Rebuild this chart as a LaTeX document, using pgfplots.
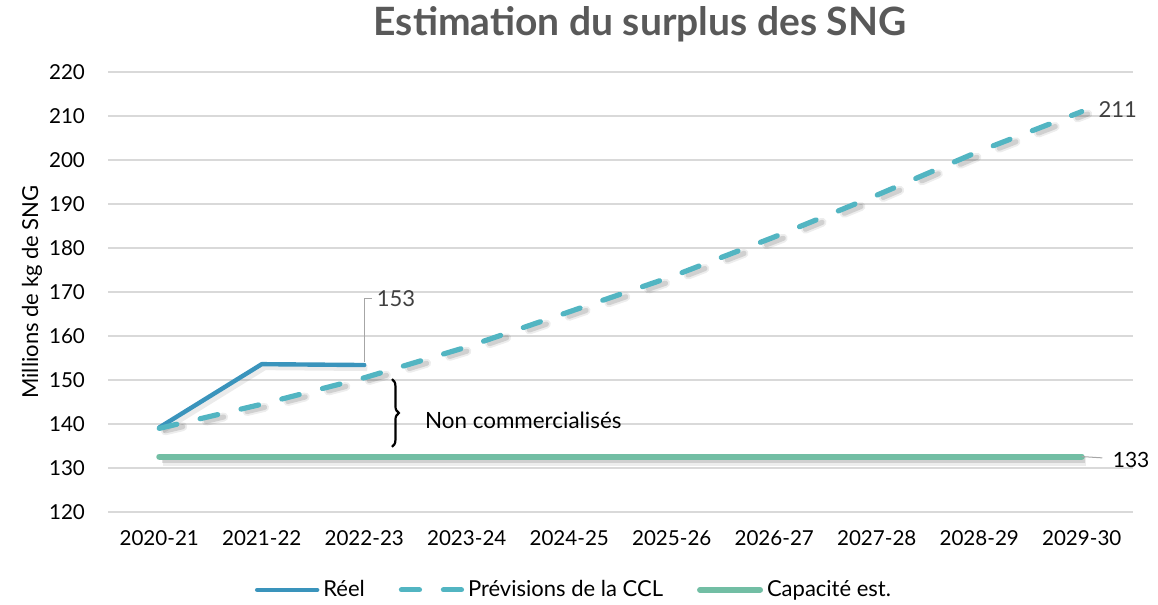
\documentclass[border=0pt]{standalone}
\usepackage{pgfplots}
\pgfplotsset{compat=1.18}
\usepackage{fontspec}
\setmainfont{Lato}
\usetikzlibrary{decorations.pathreplacing}
\definecolor{reelc}{HTML}{3A94BC}
\definecolor{prevc}{HTML}{52B5C2}
\definecolor{capc}{HTML}{72BEA4}
\definecolor{gridc}{HTML}{D9D9D9}
\definecolor{titlec}{HTML}{595959}
\definecolor{lblc}{HTML}{404040}
\begin{document}
\begin{tikzpicture}
\begin{axis}[
  width=512.5pt, height=220pt, scale only axis,
  xmin=-0.5, xmax=9.5, ymin=120, ymax=220,
  xtick={0,...,9},
  xticklabels={2020-21,2021-22,2022-23,2023-24,2024-25,2025-26,2026-27,2027-28,2028-29,2029-30},
  ytick={120,130,...,220},
  ymajorgrids, grid style={gridc, line width=0.7pt},
  axis line style={draw=none}, major tick length=0pt,
  tick label style={font=\fontsize{10.3}{11}\selectfont},
  yticklabel style={xshift=-8pt},
  xticklabel style={yshift=-6pt},
  /pgf/number format/assume math mode=true,
  ylabel={Millions de kg de SNG},
  every axis y label/.style={at={(rel axis cs:-0.0741,0.5)}, rotate=90, anchor=center, font=\fontsize{11}{12}\selectfont},
  clip=false,
  legend columns=3,
  legend style={draw=none, fill=none, at={(rel axis cs:0.4556,-0.177)}, anchor=center,
    font=\fontsize{11}{12}\selectfont,
    /tikz/every even column/.append style={column sep=15pt}},
  legend image code/.code={\draw[#1] (0pt,0pt) -- (30pt,0pt);},
]
% shadows
\addplot[forget plot, black, opacity=0.07, line width=5pt, shift={(2pt,-2pt)}] coordinates {(0,132.6) (9,132.6)};
\addplot[forget plot, black, opacity=0.12, line width=3pt, shift={(1.5pt,-1.5pt)}] coordinates {(0,132.6) (9,132.6)};
\addplot[forget plot, black, opacity=0.07, line width=4.5pt, dash pattern=on 9pt off 12pt, line cap=round, shift={(3pt,-1.2pt)}] coordinates {
 (0,139) (1,144.5) (2,150.5) (3,157.5) (4,165.5) (5,173.5) (6,182.5) (7,192) (8,202) (9,211)};
\addplot[forget plot, black, opacity=0.12, line width=2.6pt, dash pattern=on 9pt off 12pt, line cap=round, shift={(3pt,-1.2pt)}] coordinates {
 (0,139) (1,144.5) (2,150.5) (3,157.5) (4,165.5) (5,173.5) (6,182.5) (7,192) (8,202) (9,211)};
\addplot[forget plot, black, opacity=0.08, line width=3pt, shift={(1.5pt,-1.5pt)}] coordinates {(0,139.2) (1,153.6) (2,153.4)};
% series
\addplot[reelc, line width=2.2pt, line join=round, line cap=round] coordinates {(0,139.2) (1,153.6) (2,153.4)};
\addlegendentry{Réel}
\addplot[prevc, line width=2.6pt, dash pattern=on 9pt off 12pt, line cap=round, line join=round] coordinates {
 (0,139) (1,144.5) (2,150.5) (3,157.5) (4,165.5) (5,173.5) (6,182.5) (7,192) (8,202) (9,211)};
\addlegendentry{Prévisions de la CCL}
\addplot[capc, line width=3pt, line cap=round] coordinates {(0,132.6) (9,132.6)};
\addlegendentry{Capacité est.}
% labels
\draw[gray!70, line width=0.5pt] (axis cs:2,154.2) -- (axis cs:2,168.6) -- (axis cs:2.08,168.6);
\node[anchor=west, inner sep=1pt, text=lblc, font=\fontsize{11}{12}\selectfont] at (axis cs:2.1,168.6) {153};
\node[anchor=west, inner sep=1pt, text=lblc, font=\fontsize{11}{12}\selectfont] at (axis cs:9.14,211.4) {211};
\draw[gray!70, line width=0.5pt] (axis cs:9,132.6) -- (axis cs:9.2,132.3);
\node[anchor=west, inner sep=1pt, text=black, font=\fontsize{10.5}{12}\selectfont] at (axis cs:9.28,131.9) {133};
\draw[decorate, decoration={brace, amplitude=3.5pt}, line width=1.1pt] (axis cs:2.27,150.2) -- (axis cs:2.27,134.8);
\node[anchor=west, inner sep=0pt, font=\fontsize{11.2}{12}\selectfont] at (axis cs:2.59,140.9) {Non commercialisés};
\node[font=\bfseries\fontsize{19.5}{21}\selectfont, text=titlec] at (rel axis cs:0.519,1.108) {Estimation du surplus des SNG};
\coordinate (bbSW) at (rel axis cs:-0.10537,-0.21136);
\coordinate (bbNE) at (rel axis cs:1.02439,1.16364);
\end{axis}
\pgfresetboundingbox
\path[use as bounding box] (bbSW) rectangle (bbNE);
\end{tikzpicture}
\end{document}
